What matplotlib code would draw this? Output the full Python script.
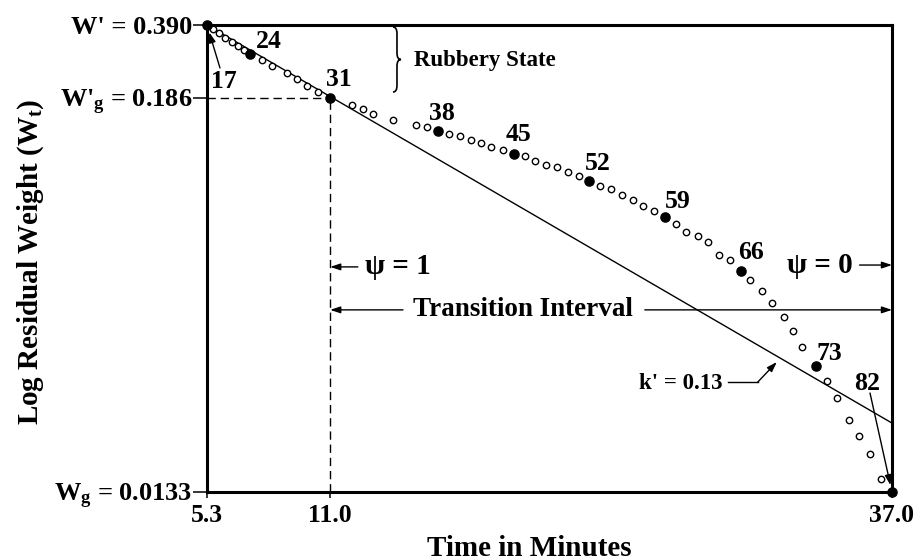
import numpy as np
import matplotlib
matplotlib.use("Agg")
import matplotlib.pyplot as plt
from matplotlib import transforms
from matplotlib.path import Path
from matplotlib.patches import PathPatch
from matplotlib.ticker import NullLocator

plt.rcParams["font.family"] = ["Liberation Serif", "DejaVu Serif"]
plt.rcParams["font.weight"] = "bold"
plt.rcParams["mathtext.fontset"] = "custom"
plt.rcParams["mathtext.rm"] = "Liberation Serif:bold"
plt.rcParams["mathtext.it"] = "Liberation Serif:bold"
plt.rcParams["mathtext.bf"] = "Liberation Serif:bold"

# ---- data -------------------------------------------------------------
W_PRIME = 0.390      # W'
W_G_PRIME = 0.186    # W'g
W_G = 0.0133         # Wg
T_START, T_GLASS, T_END = 5.3, 11.0, 37.0

open_time = [5.58, 5.87, 6.15, 6.44, 6.72, 7.01,
             7.86, 8.29, 8.99, 9.45, 9.91, 10.42,
             12.0, 12.5, 12.96, 13.92, 14.97, 15.46,
             16.5, 17.0, 17.5, 18.0, 18.45, 19.0,
             20.0, 20.5, 21.0, 21.5, 22.0, 22.5,
             23.5, 24.0, 24.5, 25.0, 25.5, 26.0,
             27.0, 27.45, 28.0, 28.5, 29.0, 29.5,
             30.45, 31.0, 31.45, 32.0, 32.4, 32.85,
             34.0, 34.45, 35.0, 35.45, 36.0, 36.5]
open_w = [0.374, 0.358, 0.343, 0.329, 0.316, 0.302,
          0.274, 0.258, 0.240, 0.226, 0.211, 0.198,
          0.177, 0.173, 0.167, 0.161, 0.155, 0.153,
          0.146, 0.144, 0.140, 0.138, 0.134, 0.131,
          0.126, 0.122, 0.119, 0.117, 0.113, 0.110,
          0.103, 0.101, 0.097, 0.094, 0.090, 0.087,
          0.080, 0.076, 0.074, 0.071, 0.065, 0.063,
          0.055, 0.051, 0.047, 0.043, 0.039, 0.035,
          0.028, 0.025, 0.0215, 0.0194, 0.0171, 0.0145]

filled_time = [5.3, 7.29, 11.0, 16.0, 19.5, 23.0, 26.5, 30.0, 33.5, 37.0]
filled_w = [0.390, 0.290, 0.186, 0.149, 0.128, 0.1065, 0.084, 0.0585, 0.031, 0.0133]
filled_labels = ["17", "24", "31", "38", "45", "52", "59", "66", "73", "82"]

kline_time = [5.3, 37.0]
kline_w = [0.390, 0.0211]

x_ticks = [T_START, T_GLASS, T_END]
x_ticklabels = ["5.3", "11.0", "37.0"]
y_ticks = [W_G, W_G_PRIME, W_PRIME]
y_ticklabels = [r"$\mathrm{W}_{\mathrm{g}}$ = 0.0133",
                r"W'$_{\mathrm{g}}$ = 0.186",
                "W' = 0.390"]

# ---- schematic log axis: two log segments joined at W'g ----------------
L0, L1, L2 = np.log10(W_G), np.log10(W_G_PRIME), np.log10(W_PRIME)
BREAK = 0.8437  # axis fraction where W'g sits


def _fwd(w):
    L = np.log10(np.clip(np.asarray(w, dtype=float), 1e-12, None))
    return np.where(L < L1,
                    (L - L0) / (L1 - L0) * BREAK,
                    BREAK + (L - L1) / (L2 - L1) * (1 - BREAK))


def _inv(f):
    f = np.asarray(f, dtype=float)
    L = np.where(f < BREAK,
                 L0 + f / BREAK * (L1 - L0),
                 L1 + (f - BREAK) / (1 - BREAK) * (L2 - L1))
    return 10 ** L


# ---- figure ----------------------------------------------------------
fig = plt.figure(figsize=(9.17, 5.6), dpi=100)
ax = fig.add_axes([207 / 917, 68 / 560, 685 / 917, 467 / 560])
ax.set_yscale("function", functions=(_fwd, _inv))
ax.set_xlim(T_START, T_END)
ax.set_ylim(W_G, W_PRIME)

for s in ax.spines.values():
    s.set_linewidth(2.2)

ax.set_xticks(x_ticks)
ax.set_xticklabels(x_ticklabels, fontsize=18.5, fontweight="bold")
ax.set_yticks(y_ticks)
ax.set_yticklabels(y_ticklabels, fontsize=19, fontweight="bold")
ax.yaxis.set_minor_locator(NullLocator())
ax.xaxis.set_minor_locator(NullLocator())
ax.tick_params(axis="y", length=10, width=1.1, pad=0.5)
ax.tick_params(axis="x", length=4, width=1.1, pad=5)

# guide lines at the glass point
dash = (0, (6, 3.5))
ax.plot([T_START, T_GLASS], [W_G_PRIME, W_G_PRIME], color="k", lw=1.0, ls=dash)
ax.plot([T_GLASS, T_GLASS], [W_G, W_G_PRIME], color="k", lw=1.0, ls=dash)

# k' line
ax.plot(kline_time, kline_w, color="k", lw=1.0)

# residual-weight readings
ax.plot(open_time, open_w, ls="none", marker="o", ms=4.6, mfc="white",
        mec="k", mew=1.0, zorder=4)
ax.plot(filled_time, filled_w, ls="none", marker="o", ms=6.6, mfc="k",
        mec="k", zorder=5, clip_on=False)

# point labels (offsets in pixels from each filled point)
label_offsets = [(17, -63), (19, 6), (9, 12), (4, 11), (4.5, 13),
                 (8.5, 11), (12.5, 9), (10.5, 12), (13.5, 6), (-24.5, 102)]
for t, w, lab, off in zip(filled_time, filled_w, filled_labels, label_offsets):
    ax.annotate(lab, (t, w), xytext=off, textcoords="offset pixels",
                ha="center", va="baseline", fontsize=18.5, fontweight="bold",
                annotation_clip=False)

arrow_kw = dict(arrowstyle="-|>,head_length=0.6,head_width=0.2",
                color="k", lw=1.0, shrinkA=0)
ax.annotate("", (filled_time[0], filled_w[0]), xytext=(13, -43),
            textcoords="offset pixels",
            arrowprops=dict(arrow_kw, shrinkB=5.5), annotation_clip=False)
ax.annotate("", (filled_time[-1], filled_w[-1]), xytext=(-22, 99),
            textcoords="offset pixels",
            arrowprops=dict(arrow_kw, shrinkB=5.0), annotation_clip=False)

# annotations: x in minutes, y in axes fraction
tr = transforms.blended_transform_factory(ax.transData, ax.transAxes)

# psi = 1
ax.annotate("", xy=(T_GLASS, 0.482), xytext=(12.28, 0.482), xycoords=tr,
            textcoords=tr, arrowprops=dict(arrow_kw, shrinkB=0))
ax.text(12.62, 0.482, "ψ = 1", transform=tr, ha="left", va="center",
        fontsize=21, fontweight="bold")

# psi = 0
ax.text(33.65, 0.486, "ψ = 0", transform=tr, ha="center", va="center",
        fontsize=21, fontweight="bold")
ax.annotate("", xy=(T_END, 0.486), xytext=(35.5, 0.486), xycoords=tr,
            textcoords=tr, arrowprops=dict(arrow_kw, shrinkB=0))

# transition interval
ax.text(19.92, 0.39, "Transition Interval", transform=tr, ha="center",
        va="center", fontsize=19.5, fontweight="bold")
ax.annotate("", xy=(T_GLASS, 0.39), xytext=(14.37, 0.39), xycoords=tr,
            textcoords=tr, arrowprops=dict(arrow_kw, shrinkB=0))
ax.annotate("", xy=(T_END, 0.39), xytext=(25.56, 0.39), xycoords=tr,
            textcoords=tr, arrowprops=dict(arrow_kw, shrinkB=0))

# k' label with leader
ax.text(27.22, 0.2334, "k' = 0.13", transform=tr, ha="center", va="center",
        fontsize=16.5, fontweight="bold")
ax.plot([29.40, 30.79], [0.2355, 0.2355], color="k", lw=1.0, transform=tr)
ax.annotate("", xy=(31.67, 0.2784), xytext=(30.79, 0.2355), xycoords=tr,
            textcoords=tr, arrowprops=dict(arrow_kw, shrinkB=0))

# rubbery state brace
bx0, bx1 = 0.2715, 0.2832
bxm = 0.5 * (bx0 + bx1)
byt, byb = 0.9957, 0.8565
bym = 0.5 * (byt + byb)
d = 0.014
verts = [(bx0, byt), (bxm, byt), (bxm, byt - d), (bxm, bym + d),
         (bxm, bym), (bx1, bym), (bxm, bym), (bxm, bym - d),
         (bxm, byb + d), (bxm, byb), (bx0, byb)]
codes = [Path.MOVETO, Path.CURVE3, Path.CURVE3, Path.LINETO,
         Path.CURVE3, Path.CURVE3, Path.CURVE3, Path.CURVE3,
         Path.LINETO, Path.CURVE3, Path.CURVE3]
ax.add_patch(PathPatch(Path(verts, codes), transform=ax.transAxes,
                       fill=False, lw=1.2, color="k"))
ax.text(0.3015, 0.925, "Rubbery State", transform=ax.transAxes, ha="left",
        va="center", fontsize=16.5, fontweight="bold")

# axis titles
fig.text(529 / 917, 1 - 555.7 / 560, "Time in Minutes", ha="center",
         va="baseline", fontsize=21, fontweight="bold")
fig.text(31 / 917, 1 - 262 / 560, r"Log Residual Weight (W$_{\mathrm{t}}$)",
         ha="center", va="center", rotation=90, fontsize=21,
         fontweight="bold")

fig.savefig("out.png", dpi=100)
